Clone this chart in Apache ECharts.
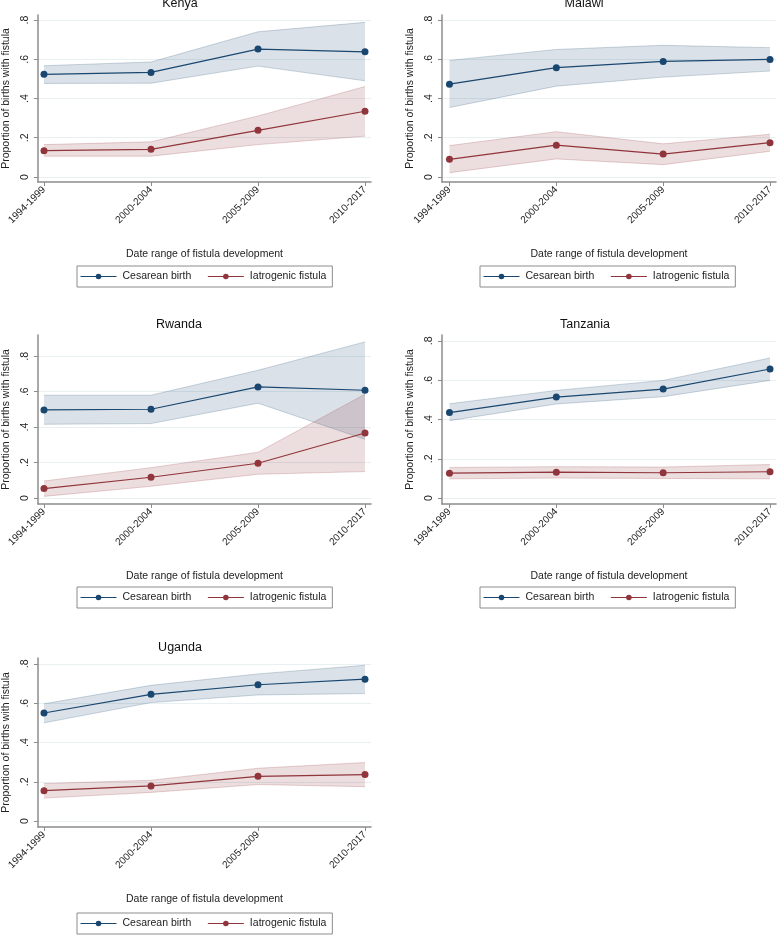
<!DOCTYPE html>
<html><head><meta charset="utf-8">
<script src="https://cdn.jsdelivr.net/npm/echarts@6/dist/echarts.min.js"></script>
<style>html,body{margin:0;padding:0;background:#fff}#chart{width:777px;height:936px}</style>
</head><body><div id="chart"></div>
<script>
// ---- Data ----
const categories = ['1994-1999', '2000-2004', '2005-2009', '2010-2017'];
const countries = ['Kenya', 'Malawi', 'Rwanda', 'Tanzania', 'Uganda'];
const seriesNames = ['Cesarean birth', 'Iatrogenic fistula'];
const yTickValues = [0, 0.2, 0.4, 0.6, 0.8];
const yTickLabels = ['0', '.2', '.4', '.6', '.8'];

const kenyaCesarean     = [0.523, 0.533, 0.652, 0.638];
const kenyaCesareanLo   = [0.477, 0.478, 0.565, 0.490];
const kenyaCesareanHi   = [0.567, 0.586, 0.740, 0.788];
const kenyaIatrogenic   = [0.134, 0.141, 0.238, 0.335];
const kenyaIatrogenicLo = [0.106, 0.106, 0.165, 0.208];
const kenyaIatrogenicHi = [0.165, 0.179, 0.311, 0.461];

const malawiCesarean     = [0.473, 0.557, 0.589, 0.599];
const malawiCesareanLo   = [0.354, 0.463, 0.509, 0.540];
const malawiCesareanHi   = [0.594, 0.650, 0.671, 0.659];
const malawiIatrogenic   = [0.090, 0.162, 0.117, 0.175];
const malawiIatrogenicLo = [0.022, 0.092, 0.063, 0.131];
const malawiIatrogenicHi = [0.160, 0.231, 0.169, 0.218];

const rwandaCesarean     = [0.497, 0.501, 0.627, 0.608];
const rwandaCesareanLo   = [0.416, 0.420, 0.535, 0.331];
const rwandaCesareanHi   = [0.580, 0.580, 0.721, 0.881];
const rwandaIatrogenic   = [0.053, 0.117, 0.196, 0.367];
const rwandaIatrogenicLo = [0.009, 0.066, 0.134, 0.149];
const rwandaIatrogenicHi = [0.096, 0.171, 0.258, 0.586];

const tanzaniaCesarean     = [0.435, 0.514, 0.555, 0.657];
const tanzaniaCesareanLo   = [0.394, 0.479, 0.516, 0.599];
const tanzaniaCesareanHi   = [0.480, 0.548, 0.599, 0.713];
const tanzaniaIatrogenic   = [0.127, 0.132, 0.129, 0.134];
const tanzaniaIatrogenicLo = [0.098, 0.102, 0.100, 0.098];
const tanzaniaIatrogenicHi = [0.156, 0.160, 0.158, 0.171];

const ugandaCesarean     = [0.550, 0.645, 0.694, 0.722];
const ugandaCesareanLo   = [0.500, 0.603, 0.642, 0.649];
const ugandaCesareanHi   = [0.597, 0.691, 0.749, 0.793];
const ugandaIatrogenic   = [0.155, 0.179, 0.228, 0.237];
const ugandaIatrogenicLo = [0.117, 0.146, 0.186, 0.175];
const ugandaIatrogenicHi = [0.191, 0.208, 0.269, 0.298];

const panelData = [
  [kenyaCesarean, kenyaCesareanLo, kenyaCesareanHi, kenyaIatrogenic, kenyaIatrogenicLo, kenyaIatrogenicHi],
  [malawiCesarean, malawiCesareanLo, malawiCesareanHi, malawiIatrogenic, malawiIatrogenicLo, malawiIatrogenicHi],
  [rwandaCesarean, rwandaCesareanLo, rwandaCesareanHi, rwandaIatrogenic, rwandaIatrogenicLo, rwandaIatrogenicHi],
  [tanzaniaCesarean, tanzaniaCesareanLo, tanzaniaCesareanHi, tanzaniaIatrogenic, tanzaniaIatrogenicLo, tanzaniaIatrogenicHi],
  [ugandaCesarean, ugandaCesareanLo, ugandaCesareanHi, ugandaIatrogenic, ugandaIatrogenicLo, ugandaIatrogenicHi]
];

// ---- Layout & style ----
const FONT = '"Liberation Sans", Arial, Helvetica, sans-serif';
const layout = [
  {left: 38,  right: 406, top: 15,  height: 167, xmin: 0.944, xmax: 4.056, ymin: -0.0255, ymax: 0.8255, tx: 180, ty: 5,   lx: 77,  ly: 266},
  {left: 442, right: 1,   top: 15,  height: 167, xmin: 0.93,  xmax: 4.056, ymin: -0.0255, ymax: 0.8255, tx: 584, ty: 5,   lx: 480, ly: 266},
  {left: 38,  right: 406, top: 335, height: 169, xmin: 0.944, xmax: 4.056, ymin: -0.034,  ymax: 0.92,   tx: 179, ty: 326, lx: 77,  ly: 587},
  {left: 442, right: 1,   top: 335, height: 169, xmin: 0.93,  xmax: 4.056, ymin: -0.03,   ymax: 0.83,   tx: 585, ty: 326, lx: 480, ly: 587},
  {left: 38,  right: 406, top: 658, height: 169, xmin: 0.944, xmax: 4.056, ymin: -0.03,   ymax: 0.83,   tx: 180, ty: 649, lx: 77,  ly: 913}
];
const lineColors = ['#1a476f', '#90353b'];
const bandFills = ['rgba(26,71,111,0.16)', 'rgba(144,53,59,0.17)'];
const bandEdges = ['rgba(26,71,111,0.22)', 'rgba(144,53,59,0.22)'];
const AXIS = '#8c8c8c';
const TEXT = '#222';

const grids = [], xAxes = [], yAxes = [], titles = [], legends = [], series = [];
const pts = arr => arr.map((v, k) => [k + 1, v]);

function bandRenderer(fill, edge) {
  return function (params, api) {
    if (params.dataIndex !== 0) return null;
    const n = params.dataInsideLength;
    const upper = [], lower = [];
    for (let k = 0; k < n; k++) {
      const x = api.value(0, k), lo = api.value(1, k), hi = api.value(2, k);
      upper.push(api.coord([x, hi]));
      lower.push(api.coord([x, lo]));
    }
    const poly = upper.concat(lower.slice().reverse());
    return {
      type: 'group',
      children: [
        {type: 'polygon', shape: {points: poly}, style: {fill: fill, stroke: null}},
        {type: 'polyline', shape: {points: upper}, style: {fill: null, stroke: edge, lineWidth: 1}},
        {type: 'polyline', shape: {points: lower}, style: {fill: null, stroke: edge, lineWidth: 1}}
      ]
    };
  };
}

layout.forEach((L, i) => {
  grids.push({left: L.left, right: L.right, top: L.top, height: L.height, containLabel: false});
  titles.push({text: countries[i], left: L.tx, top: L.ty - 8, textAlign: 'center', padding: 0,
    textStyle: {fontFamily: FONT, fontSize: 12.5, fontWeight: 'normal', color: '#111'}});
  xAxes.push({
    type: 'value', gridIndex: i, min: L.xmin, max: L.xmax,
    name: 'Date range of fistula development', nameLocation: 'middle', nameGap: 67,
    nameTextStyle: {fontFamily: FONT, fontSize: 10.5, color: TEXT},
    axisLine: {show: true, onZero: false, lineStyle: {color: AXIS, width: 1.5}},
    axisTick: {show: true, length: 4, customValues: [1, 2, 3, 4], lineStyle: {color: AXIS, width: 1}},
    axisLabel: {show: true, rotate: 45, margin: 6, fontFamily: FONT, fontSize: 10, color: TEXT,
      customValues: [1, 2, 3, 4], formatter: v => categories[Math.round(v) - 1]},
    splitLine: {show: false}
  });
  yAxes.push({
    type: 'value', gridIndex: i, min: L.ymin, max: L.ymax,
    name: 'Proportion of births with fistula', nameLocation: 'middle', nameGap: 26,
    nameTextStyle: {fontFamily: FONT, fontSize: 10.5, color: TEXT},
    axisLine: {show: true, onZero: false, lineStyle: {color: AXIS, width: 1.5}},
    axisTick: {show: true, length: 4, customValues: yTickValues, lineStyle: {color: AXIS, width: 1}},
    axisLabel: {show: true, rotate: 90, margin: 7, fontFamily: FONT, fontSize: 10.5, color: TEXT,
      customValues: yTickValues,
      formatter: v => { const k = yTickValues.findIndex(t => Math.abs(t - v) < 1e-6); return k >= 0 ? yTickLabels[k] : ''; }},
    splitLine: {show: true, lineStyle: {color: '#e8f0f2', width: 1}}
  });
  legends.push({
    data: seriesNames.map(n => ({name: n})),
    left: L.lx, top: L.ly, orient: 'horizontal',
    itemWidth: 36, itemHeight: 7, itemGap: 16,
    padding: [5, 6, 5, 3],
    borderColor: '#8c8c8c', borderWidth: 1, borderRadius: 0,
    selectedMode: false,
    lineStyle: {width: 1},
    textStyle: {fontFamily: FONT, fontSize: 10.5, color: TEXT, padding: [0, 0, 0, 1]}
  });

  const d = panelData[i];
  [0, 1].forEach(s => {
    const lo = d[s * 3 + 1], hi = d[s * 3 + 2];
    series.push({
      name: seriesNames[s] + ' 95% CI', type: 'custom', xAxisIndex: i, yAxisIndex: i,
      data: lo.map((v, k) => [k + 1, v, hi[k]]),
      encode: {x: 0, y: [1, 2]},
      renderItem: bandRenderer(bandFills[s], bandEdges[s]),
      silent: true, z: 1
    });
  });
  [0, 1].forEach(s => {
    series.push({
      name: seriesNames[s], type: 'line', xAxisIndex: i, yAxisIndex: i,
      data: pts(d[s * 3]), symbol: 'circle', symbolSize: 7, showSymbol: true, z: 3,
      itemStyle: {color: lineColors[s]},
      lineStyle: {color: lineColors[s], width: 1.2}
    });
  });
});

const chart = echarts.init(document.getElementById('chart'), null, {renderer: 'canvas'});
chart.setOption({
  animation: false,
  backgroundColor: '#ffffff',
  title: titles,
  legend: legends,
  grid: grids,
  xAxis: xAxes,
  yAxis: yAxes,
  series: series
});
</script>
</body></html>
